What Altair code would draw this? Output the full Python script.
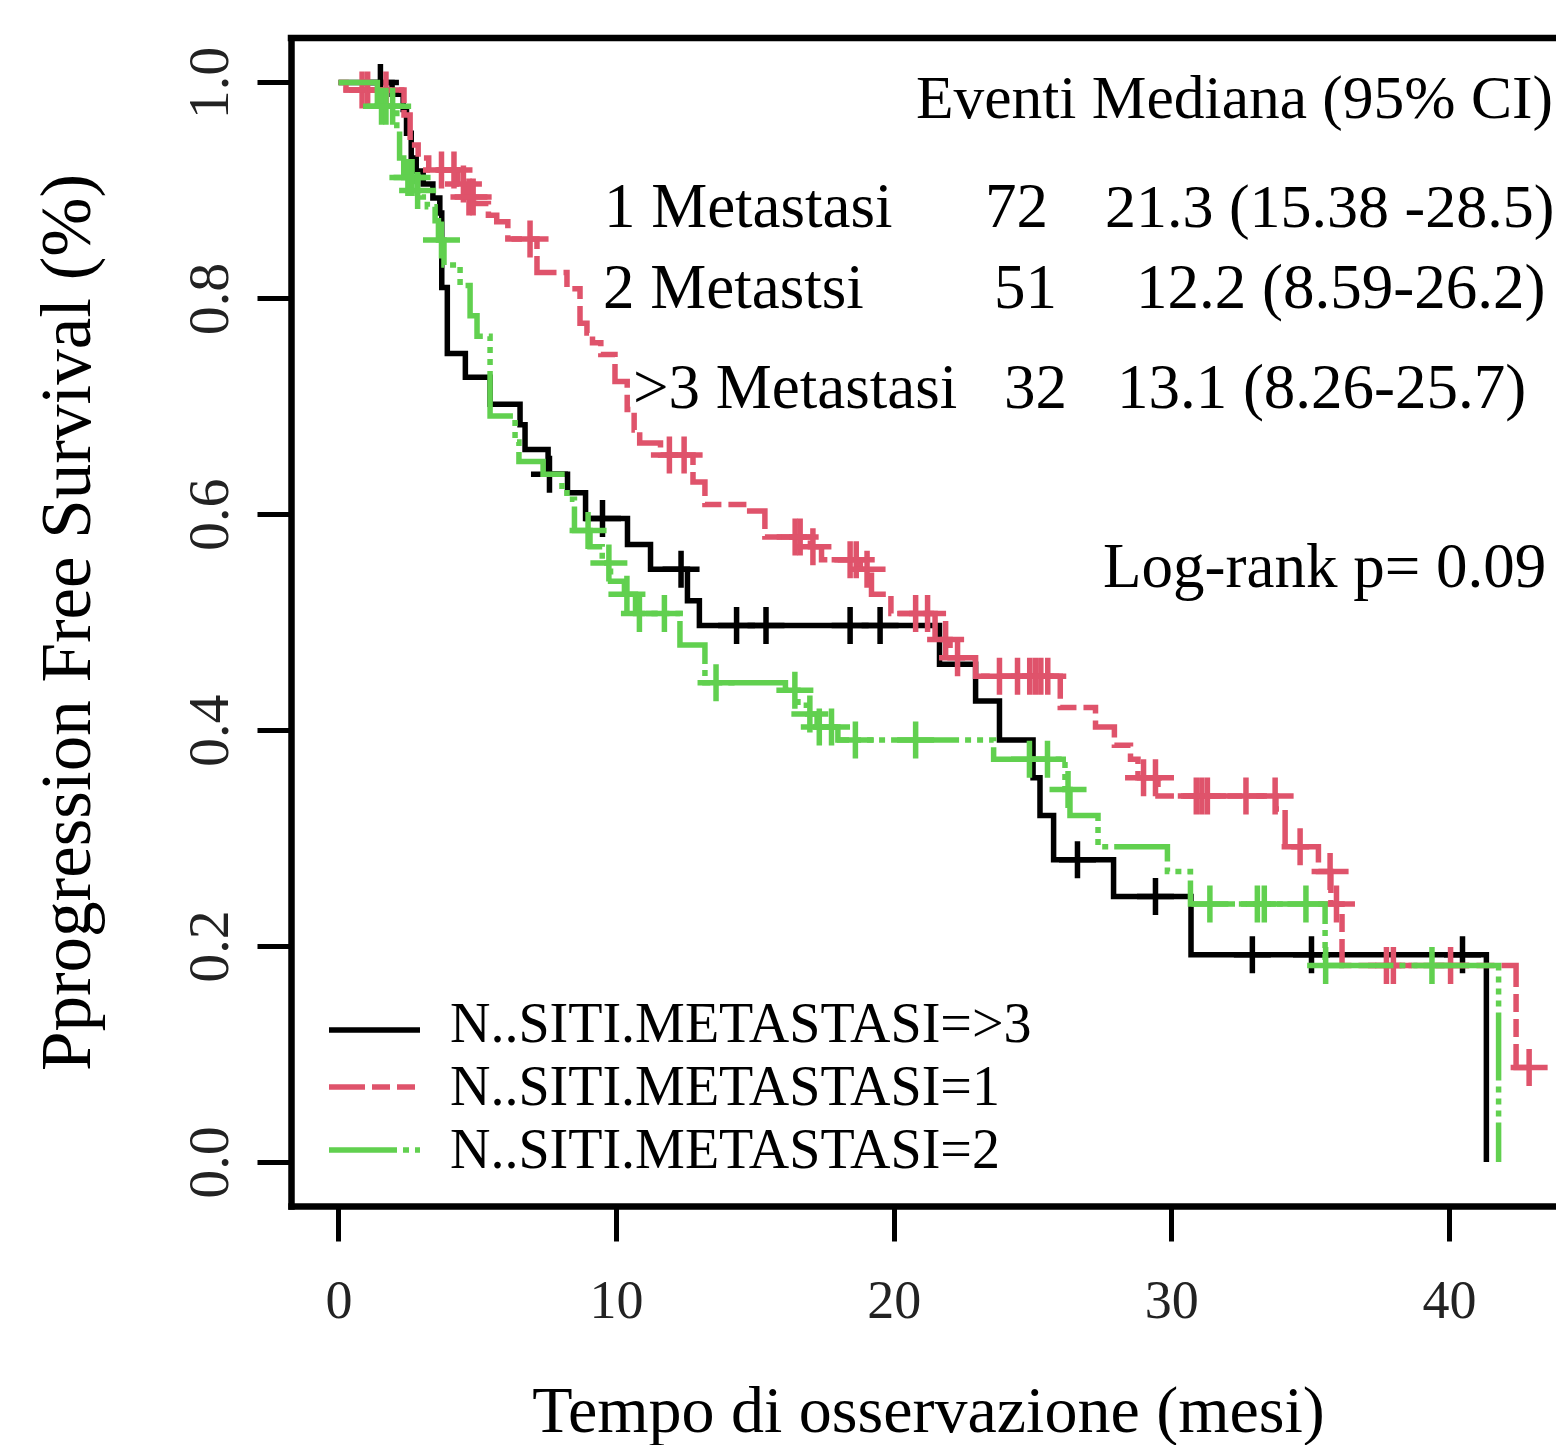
import altair as alt
import pandas as pd

# ---------------- data ----------------
group_labels = ["N..SITI.METASTASI=>3", "N..SITI.METASTASI=1", "N..SITI.METASTASI=2"]

# >3 metastasi (black, solid): step times (months) and survival after each step
black_t = [0, 1.93, 2.33, 2.45, 2.62, 2.80, 3.05, 3.40, 3.65, 3.72, 3.92, 4.57, 5.46, 6.54, 6.72,
           7.55, 8.25, 8.90, 10.41, 11.24, 12.57, 13.00, 21.65, 22.95, 23.81, 25.02, 25.27, 25.76,
           27.92, 30.71, 41.35]
black_s = [1.0, 0.989, 0.975, 0.953, 0.930, 0.918, 0.906, 0.893, 0.879, 0.810, 0.749, 0.727, 0.702,
           0.683, 0.660, 0.637, 0.620, 0.596, 0.572, 0.549, 0.520, 0.497, 0.461, 0.427, 0.391, 0.356,
           0.321, 0.280, 0.246, 0.192, 0.0]
black_cens = [1.51, 7.60, 9.51, 12.34, 14.34, 15.40, 18.43, 19.51, 26.62, 29.43, 32.92, 35.05, 40.49]

# 1 metastasi (red, dashed)
red_t = [0, 0.27, 2.36, 2.58, 2.87, 3.25, 4.30, 4.55, 4.90, 5.40, 5.70, 6.10, 7.15, 8.23, 8.70, 8.95,
         9.15, 9.45, 9.96, 10.40, 10.65, 10.85, 11.60, 12.77, 13.20, 14.70, 15.36, 17.00, 17.40,
         18.80, 19.20, 19.90, 21.49, 22.03, 22.95, 26.00, 27.27, 27.95, 28.53, 28.80, 29.52, 33.77,
         34.10, 35.30, 35.75, 36.15, 42.42, 42.89]
red_s = [1.0, 0.993, 0.970, 0.942, 0.930, 0.919, 0.906, 0.894, 0.888, 0.877, 0.871, 0.855, 0.824,
         0.809, 0.777, 0.768, 0.759, 0.748, 0.723, 0.697, 0.678, 0.666, 0.655, 0.630, 0.609, 0.603,
         0.579, 0.570, 0.558, 0.549, 0.526, 0.508, 0.484, 0.467, 0.450, 0.421, 0.403, 0.386, 0.373,
         0.356, 0.339, 0.327, 0.292, 0.269, 0.239, 0.182, 0.0875, 0.0875]
red_cens = [0.85, 1.05, 1.71, 3.71, 4.16, 4.50, 4.70, 4.85, 6.90, 11.92, 12.45, 16.45, 16.63, 17.09,
            18.43, 18.65, 19.04, 20.79, 21.22, 21.87, 22.30, 23.81, 24.46, 24.90, 25.10, 25.30, 25.55,
            29.00, 29.43, 30.90, 31.10, 31.30, 32.69, 33.74, 34.64, 35.72, 35.95, 37.75, 38.00, 40.06,
            42.89]

# 2 metastasi (green, dot-dash)
green_t = [0, 1.40, 2.10, 2.20, 2.35, 2.75, 3.00, 3.20, 3.48, 3.60, 3.80, 4.38, 4.74, 4.99, 5.46,
           6.36, 6.50, 7.37, 8.05, 8.23, 8.50, 9.06, 9.50, 9.80, 10.30, 10.70, 12.30, 13.20, 16.10,
           16.55, 16.90, 17.24, 17.99, 23.60, 26.17, 26.35, 27.36, 29.86, 30.69, 35.54, 41.79]
green_s = [1.0, 0.978, 0.955, 0.930, 0.912, 0.900, 0.894, 0.885, 0.872, 0.854, 0.831, 0.812, 0.784,
           0.765, 0.691, 0.667, 0.649, 0.637, 0.626, 0.614, 0.585, 0.570, 0.555, 0.538, 0.526, 0.508,
           0.479, 0.444, 0.437, 0.423, 0.415, 0.403, 0.391, 0.373, 0.345, 0.321, 0.292, 0.269, 0.239,
           0.182, 0.0]
green_cens = [1.55, 1.71, 1.95, 2.50, 2.65, 2.85, 3.71, 8.99, 9.74, 10.39, 10.84, 11.74, 13.60, 16.44,
              16.98, 17.32, 17.76, 18.62, 20.79, 24.89, 25.54, 26.28, 31.39, 33.10, 33.35, 34.85,
              35.56, 39.39]

table_header = "Eventi Mediana (95% CI)"
table_groups = ["1 Metastasi", "2 Metastsi", ">3 Metastasi"]
table_events = ["72", "51", "32"]
table_medians = ["21.3 (15.38 -28.5)", "12.2 (8.59-26.2)", "13.1 (8.26-25.7)"]
pvalue_text = "Log-rank p= 0.09"

x_ticks = [0, 10, 20, 30, 40]
y_ticks = [0.0, 0.2, 0.4, 0.6, 0.8, 1.0]
x_title = "Tempo di osservazione (mesi)"
y_title = "Pprogression Free Survival (%)"

# ---------------- layout / style ----------------
SERIF = "Liberation Serif"
W, H = 1265, 1168
X_DOM = [-1.711, 43.858]
Y_DOM = [-0.04076, 1.04122]
xs = alt.Scale(domain=X_DOM, nice=False, zero=False)
ys = alt.Scale(domain=Y_DOM, nice=False, zero=False)

BLACK, RED, GREEN = "#000000", "#DF536B", "#61D04F"
DASH_RED = [36, 7, 18, 7, 18, 7]
DASH_GREEN = [68, 6, 6, 6, 6, 6, 6, 6]
LW = 5.5
PLUS = "M-1,0L1,0M0,-1L0,1"


def level_at(ts, ss, c):
    val = ss[0]
    for t, s in zip(ts, ss):
        if t <= c:
            val = s
        else:
            break
    return val


x_axis = alt.Axis(values=x_ticks, title=x_title, labelPadding=76, labelBaseline="alphabetic",
                  labelAlign="center", labelFontSize=54, tickSize=35,
                  titleFontSize=66, titleX=637, titleY=225, titleAlign="center",
                  titleBaseline="alphabetic")
y_axis = alt.Axis(values=y_ticks, format=".1f", title=y_title, labelAngle=270, labelAlign="center",
                  labelBaseline="alphabetic", labelPadding=30, labelFontSize=58, tickSize=34,
                  titleFontSize=71, titleAngle=270, titleX=-223, titleY=584, titleAlign="center",
                  titleBaseline="middle")


def X():
    return alt.X("t:Q", scale=xs, axis=x_axis)


def Y():
    return alt.Y("S:Q", scale=ys, axis=y_axis)


layers = []

# annotation texts (positions in data units)
ann = pd.DataFrame({
    "text": [table_header,
             table_groups[0], table_events[0], table_medians[0],
             table_groups[1], table_events[1], table_medians[1],
             table_groups[2], table_events[2], table_medians[2],
             pvalue_text],
    "t": [20.80, 9.56, 23.29, 27.61, 9.53, 23.61, 28.73, 10.61, 23.97, 28.04, 27.54],
    "S": [0.9671, 0.8666, 0.8666, 0.8666, 0.7911, 0.7911, 0.7911, 0.6985, 0.6985, 0.6985, 0.5327],
    "fs": [61.5, 63, 63, 62, 63, 63, 63, 63, 63, 63, 63],
})
layers.append(
    alt.Chart(ann).mark_text(align="left", baseline="alphabetic", font=SERIF,
                             color="black").encode(
        x=X(), y=Y(), text="text:N",
        size=alt.Size("fs:Q", scale=None, legend=None)))

series = [
    (black_t, black_s, black_cens, BLACK, None),
    (red_t, red_s, red_cens, RED, DASH_RED),
    (green_t, green_s, green_cens, GREEN, DASH_GREEN),
]
for ts, ss, cens, col, dash in series:
    df = pd.DataFrame({"t": ts, "S": ss})
    kw = dict(color=col, strokeWidth=LW, interpolate="step-after", clip=True)
    if dash:
        kw["strokeDash"] = dash
    layers.append(alt.Chart(df).mark_line(**kw).encode(x=X(), y=Y()))
    cdf = pd.DataFrame({"t": cens, "S": [level_at(ts, ss, c) for c in cens]})
    layers.append(alt.Chart(cdf).mark_point(shape=PLUS, size=1369, filled=False, stroke=col,
                                            strokeWidth=LW, opacity=1, clip=True).encode(
        x=X(), y=Y()))

# legend (drawn in pixel space of the plot)
leg = pd.DataFrame({"label": group_labels})
leg_y = [992, 1049, 1112]
leg_ty = [1004, 1067, 1130]
leg_cols = [BLACK, RED, GREEN]
leg_dash = [None, DASH_RED, DASH_GREEN]
for i, (yy, ty, col, dash) in enumerate(zip(leg_y, leg_ty, leg_cols, leg_dash)):
    one = leg.iloc[[i]]
    kw = dict(color=col, strokeWidth=LW)
    if dash:
        kw["strokeDash"] = dash
    layers.append(alt.Chart(one).mark_rule(**kw).encode(
        x=alt.value(38), x2=alt.value(129), y=alt.value(yy)))
    layers.append(alt.Chart(one).mark_text(align="left", baseline="alphabetic",
                                           font=SERIF, fontSize=56, color="black").encode(
        x=alt.value(159), y=alt.value(ty), text="label:N"))

# top edge of the box
layers.append(alt.Chart(leg.iloc[[0]]).mark_rule(color="black", strokeWidth=6.5,
                                                 strokeCap="square").encode(
    x=alt.value(0), x2=alt.value(W), y=alt.value(0)))

chart = alt.layer(*layers).properties(
    width=W, height=H,
    autosize=alt.AutoSizeParams(type="none"),
    padding={"left": 283, "top": 30, "right": 0, "bottom": 240},
).configure_view(strokeWidth=0).configure_axis(
    grid=False, domain=True, domainWidth=6.5, domainColor="black", domainCap="square",
    ticks=True, tickWidth=5, tickColor="black", labelFont=SERIF, labelColor="#222222",
    labelFlush=False, labelOverlap=False, titleFont=SERIF, titleFontWeight="normal",
    titleColor="black")

chart.save("out.html", embed_options={"renderer": "svg", "actions": False})
